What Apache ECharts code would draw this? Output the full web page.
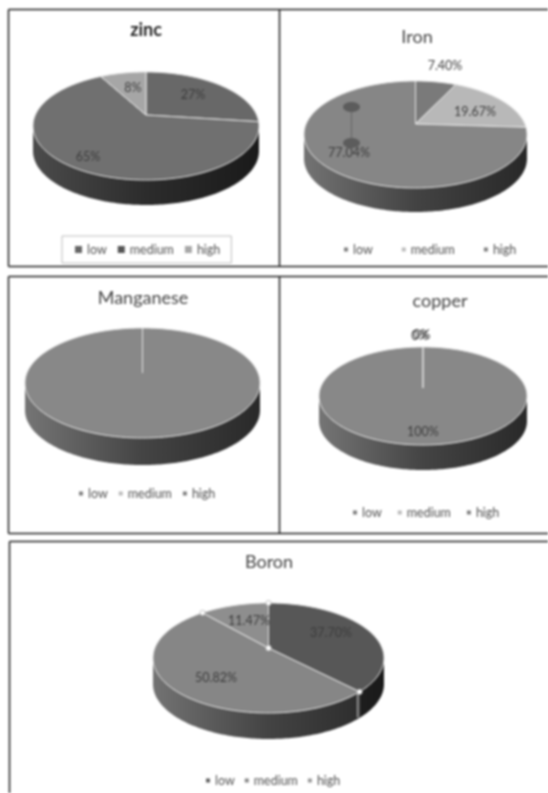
<!DOCTYPE html>
<html>
<head>
<meta charset="utf-8">
<style>
html,body{margin:0;padding:0;background:#fff;overflow:hidden}
#main{width:548px;height:793px;filter:blur(0.8px)}
</style>
<script src="https://cdn.jsdelivr.net/npm/echarts@6/dist/echarts.min.js"></script>
</head>
<body>
<div id="main"></div>
<script>
// ---- data: one entry per nutrient, in this order
const nutrients = ['zinc', 'Iron', 'Manganese', 'copper', 'Boron'];
const sliceNames = ['low', 'medium', 'high'];
const lowValues = [27, 7.40, 0, 0, 37.70];
const mediumValues = [65, 19.67, 0, 0, 50.82];
const highValues = [8, 77.04, 100, 100, 11.47];
const lowLabels = ['27%', '7.40%', null, '0%', '37.70%'];
const mediumLabels = ['65%', '19.67%', null, '0%', '50.82%'];
const highLabels = ['8%', '77.04%', null, '100%', '11.47%'];

// ---- styling and layout
const sliceValues = [lowValues, mediumValues, highValues];
const sliceLabels = [lowLabels, mediumLabels, highLabels];
const sliceColors = [
  ['#686868', '#707070', '#a6a6a6'],
  ['#7a7a7a', '#b8b8b8', '#868686'],
  ['#868686', '#a0a0a0', '#888888'],
  ['#868686', '#a0a0a0', '#888888'],
  ['#575757', '#868686', '#8e8e8e']
];
const legendColors = [
  ['#666666', '#555555', '#a8a8a8'],
  ['#808080', '#bbbbbb', '#808080'],
  ['#808080', '#bbbbbb', '#808080'],
  ['#808080', '#bbbbbb', '#808080'],
  ['#606060', '#888888', '#999999']
];
const panels = [
  {cx:146, cy:126, rx:113, ry:54, apexY:115, depth:25, wallTone:0.78, titleX:146, titleY:21, bold:true,
   labelAt:[[193,95],[88,157],[133,88]],
   legend:{left:62, top:236, gap:11, size:7, box:true}},
  {cx:415.5, cy:134.5, rx:111.5, ry:53.5, apexY:124, depth:24, wallTone:1, titleX:417, titleY:28,
   labelAt:[[445,66],[475,112],[349,153]],
   legend:{left:344, top:243, gap:29, size:4}},
  {cx:142.5, cy:383, rx:117.5, ry:55, apexY:373, depth:27, wallTone:1, titleX:143, titleY:289,
   labelAt:[null,null,null],
   legend:{left:79, top:487, gap:11, size:4}},
  {cx:423, cy:396, rx:104, ry:49, apexY:388, depth:25, wallTone:1, titleX:440, titleY:292,
   labelAt:[[420,336],[422,335],[423,432]],
   legend:{left:353, top:506, gap:16, size:4}},
  {cx:268.5, cy:658, rx:115.5, ry:55, apexY:648, depth:26, wallTone:1, titleX:269, titleY:553, handles:true,
   labelAt:[[331,633],[216,678],[249,621]],
   legend:{left:206, top:774, gap:10, size:4}}
];
const frameLines = [
  [8,9,548,9],[8,9,8,266],[8,266,548,266],[279,9,279,266],
  [8,276,548,276],[8,276,8,533],[8,533,548,533],[279,276,279,533],
  [9,541,548,541],[9,541,9,793]
];

// ---- perspective projection of a point of the unit disc on the drawn ellipse
function project(p, deg, r) {
  const a = deg * Math.PI / 180, X = r * Math.sin(a), Y = r * Math.cos(a);
  const t = (p.cy - p.apexY) / p.ry, w = 1 + t * Y;
  return [p.cx + p.rx * X * Math.sqrt(1 - t * t) / w, p.cy - p.ry * (Y + t) / w];
}
function shade(hex, f) {
  const v = Math.round(parseInt(hex.slice(1, 3), 16) * f);
  return 'rgb(' + v + ',' + v + ',' + v + ')';
}
function renderSlice(sliceIdx) {
  return function (params, api) {
    const i = api.value(0), value = api.value(1), p = panels[i];
    let total = 0, before = 0;
    sliceValues.forEach((vals, k) => { total += vals[i]; if (k < sliceIdx) before += vals[i]; });
    const start = before / total * 360, end = (before + value) / total * 360;
    const arc = [];
    const steps = Math.max(1, Math.ceil(end - start));
    for (let s = 0; s <= steps; s++) arc.push(project(p, start + (end - start) * s / steps, 1));
    const color = sliceColors[i][sliceIdx];
    const children = [];
    const front = arc.filter(pt => pt[1] >= p.cy);
    if (front.length > 1) {
      const wall = front.concat(front.slice().reverse().map(pt => [pt[0], pt[1] + p.depth]));
      children.push({
        type: 'polygon', z2: 1, shape: {points: wall},
        style: {fill: new echarts.graphic.LinearGradient(p.cx - p.rx, 0, p.cx + p.rx, 0, [
          {offset: 0, color: shade(color, 0.86 * p.wallTone)},
          {offset: 0.5, color: shade(color, 0.5 * p.wallTone)},
          {offset: 1, color: shade(color, 0.3 * p.wallTone)}
        ], true)}
      });
    }
    const apex = [p.cx, p.apexY];
    children.push({
      type: 'polygon', z2: 3, shape: {points: [apex].concat(arc)},
      style: {fill: color, stroke: '#e6e6e6', lineWidth: 1, lineJoin: 'round'}
    });
    const text = sliceLabels[sliceIdx][i], at = p.labelAt[sliceIdx];
    if (text && at) {
      children.push({
        type: 'text', z2: 8, x: at[0], y: at[1],
        style: {text: text, fill: '#3c3c3c', font: '12.5px Lato', align: 'center', verticalAlign: 'middle'}
      });
    }
    if (p.handles) {
      const edge = arc[0];
      if (edge[1] > p.cy) {
        children.push({type: 'line', z2: 2, shape: {x1: edge[0] - 2, y1: edge[1], x2: edge[0] - 2, y2: edge[1] + p.depth},
          style: {stroke: '#d8d8d8', lineWidth: 1}});
      }
      [edge, apex].forEach(pt => children.push({
        type: 'circle', z2: 6, shape: {cx: pt[0], cy: pt[1], r: 2.6},
        style: {fill: '#fff', stroke: '#aaaaaa', lineWidth: 0.7}
      }));
    }
    return {type: 'group', children: children};
  };
}

const chart = echarts.init(document.getElementById('main'), null, {renderer: 'canvas'});
chart.setOption({
  animation: false,
  backgroundColor: '#ffffff',
  title: nutrients.map((name, i) => ({
    text: name, left: panels[i].titleX, top: panels[i].titleY, padding: 0, textAlign: 'center',
    textStyle: {fontFamily: 'Lato', fontSize: 18,
      fontWeight: panels[i].bold ? 'bold' : 'normal', color: panels[i].bold ? '#222222' : '#444444'}
  })),
  legend: panels.map((p, i) => ({
    left: p.legend.left, top: p.legend.top, orient: 'horizontal', selectedMode: false,
    itemGap: p.legend.gap, itemWidth: p.legend.size, itemHeight: p.legend.size, icon: 'rect',
    padding: p.legend.box ? [7, 11, 7, 13] : 0,
    borderColor: p.legend.box ? '#bdbdbd' : 'transparent', borderWidth: p.legend.box ? 1 : 0,
    textStyle: {fontFamily: 'Lato', fontSize: 12.5, color: '#505050'},
    data: sliceNames.map((n, k) => ({name: n, itemStyle: {color: legendColors[i][k]}}))
  })),
  graphic: {elements: frameLines.map(l => ({
    type: 'line', silent: true, shape: {x1: l[0] + 0.5, y1: l[1] + 0.5, x2: l[2] + 0.5, y2: l[3] + 0.5},
    style: {stroke: '#1e1e1e', lineWidth: 1.5}
  })).concat([
    {type: 'line', z: 10, shape: {x1: 351.5, y1: 107, x2: 351.5, y2: 143}, style: {stroke: '#666666', lineWidth: 1}},
    {type: 'ellipse', z: 10, shape: {cx: 351.5, cy: 107, rx: 8.5, ry: 5}, style: {fill: '#5c5c5c'}},
    {type: 'ellipse', z: 10, shape: {cx: 351.5, cy: 143, rx: 8.5, ry: 5}, style: {fill: '#5c5c5c'}}
  ])},
  series: sliceNames.map((name, k) => ({
    type: 'custom',
    name: name,
    coordinateSystem: 'none',
    silent: true,
    itemStyle: {color: legendColors[0][k]},
    data: sliceValues[k].map((v, i) => [i, v]),
    renderItem: renderSlice(k)
  }))
});
</script>
</body>
</html>
